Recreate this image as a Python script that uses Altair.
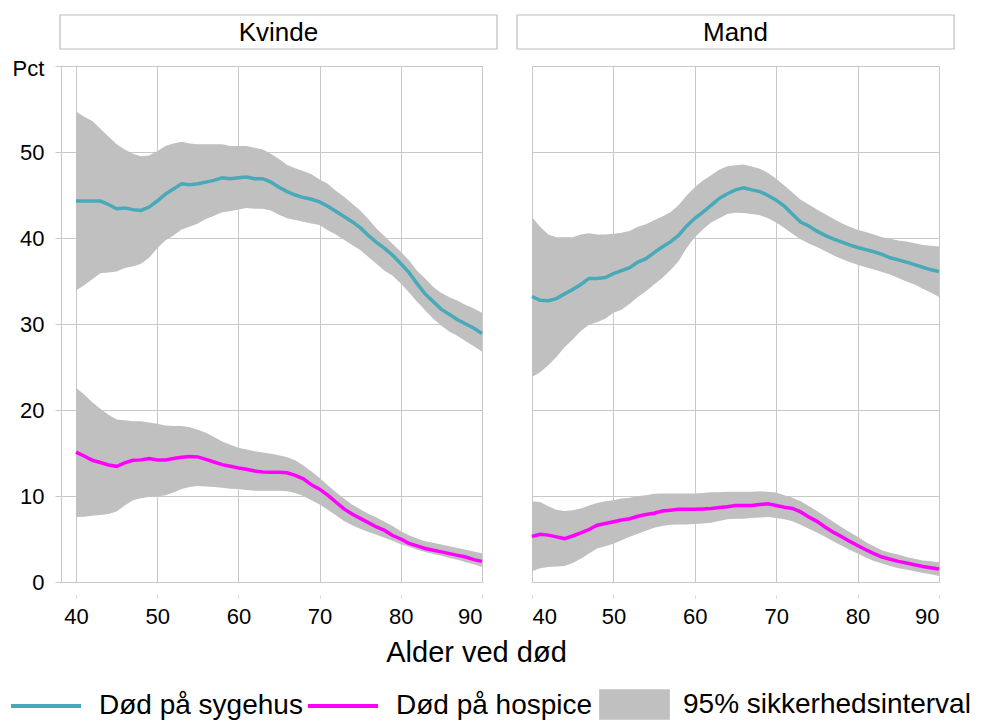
import altair as alt
import pandas as pd

ages = list(range(40, 91))

# Kvinde - Død på sygehus
kv_syg = [44.3, 44.3, 44.3, 44.3, 43.9, 43.4, 43.5, 43.3, 43.2, 43.6,
          44.3, 45.1, 45.7, 46.3, 46.2, 46.3, 46.5, 46.7, 47.0, 46.9,
          47.0, 47.1, 46.9, 46.9, 46.5, 45.9, 45.4, 45.0, 44.7, 44.5,
          44.2, 43.7, 43.1, 42.5, 41.9, 41.2, 40.3, 39.5, 38.8, 38.0,
          37.0, 36.0, 34.7, 33.5, 32.6, 31.7, 31.1, 30.5, 30.0, 29.5, 28.9]
kv_syg_hi = [54.7, 54.1, 53.6, 52.7, 51.8, 50.9, 50.3, 49.8, 49.5, 49.6,
             50.1, 50.7, 51.0, 51.2, 51.0, 50.9, 50.9, 50.9, 50.9, 50.7,
             50.7, 50.7, 50.5, 50.3, 49.8, 49.2, 48.5, 48.1, 47.8, 47.4,
             46.8, 46.3, 45.5, 44.8, 44.0, 43.2, 42.2, 41.1, 40.2, 39.3,
             38.4, 37.4, 36.2, 35.3, 34.3, 33.6, 33.1, 32.7, 32.2, 31.8, 31.3]
kv_syg_lo = [33.9, 34.5, 35.2, 35.9, 36.0, 36.1, 36.5, 36.7, 37.0, 37.7,
             38.8, 39.7, 40.3, 41.0, 41.3, 41.7, 42.2, 42.6, 43.0, 43.1,
             43.3, 43.5, 43.4, 43.4, 43.2, 42.7, 42.3, 42.1, 41.9, 41.7,
             41.5, 40.9, 40.4, 39.8, 39.2, 38.6, 37.8, 37.0, 36.2, 35.6,
             34.7, 33.7, 32.6, 31.6, 30.6, 29.8, 29.1, 28.6, 28.0, 27.4, 26.8]

# Kvinde - Død på hospice
kv_hos = [15.1, 14.65, 14.15, 13.9, 13.6, 13.45, 13.85, 14.15, 14.2, 14.35,
          14.2, 14.2, 14.35, 14.5, 14.6, 14.55, 14.25, 13.95, 13.65, 13.45,
          13.25, 13.1, 12.9, 12.8, 12.75, 12.75, 12.7, 12.4, 12.0, 11.3,
          10.8, 10.1, 9.3, 8.5, 7.9, 7.4, 6.9, 6.4, 6.0, 5.4,
          5.0, 4.5, 4.2, 3.9, 3.7, 3.5, 3.3, 3.1, 2.9, 2.6, 2.4]
kv_hos_hi = [22.6, 21.8, 20.9, 20.15, 19.45, 18.9, 18.8, 18.7, 18.7, 18.55,
             18.4, 18.2, 18.15, 18.15, 18.0, 17.7, 17.35, 16.85, 16.35, 15.95,
             15.6, 15.4, 15.2, 15.05, 14.9, 14.75, 14.5, 14.15, 13.55, 12.85,
             12.1, 11.25, 10.45, 9.7, 9.0, 8.45, 7.95, 7.5, 7.0, 6.5,
             5.9, 5.45, 5.05, 4.75, 4.55, 4.35, 4.15, 3.95, 3.75, 3.55, 3.35]
kv_hos_lo = [7.55, 7.6, 7.7, 7.8, 7.9, 8.2, 8.9, 9.5, 9.75, 9.9,
             9.95, 10.1, 10.4, 10.8, 11.05, 11.15, 11.1, 11.05, 10.95, 10.85,
             10.8, 10.7, 10.6, 10.6, 10.6, 10.6, 10.55, 10.35, 10.0, 9.5,
             9.0, 8.4, 7.75, 7.1, 6.6, 6.2, 5.8, 5.5, 5.15, 4.8,
             4.4, 4.1, 3.75, 3.5, 3.25, 3.05, 2.8, 2.6, 2.3, 2.05, 1.75]

# Mand - Død på sygehus
ma_syg = [33.2, 32.75, 32.7, 32.95, 33.5, 34.0, 34.6, 35.3, 35.3, 35.4,
          35.85, 36.2, 36.55, 37.2, 37.6, 38.3, 38.95, 39.55, 40.3, 41.4,
          42.3, 43.0, 43.8, 44.6, 45.15, 45.6, 45.85, 45.6, 45.4, 44.95,
          44.4, 43.7, 42.75, 41.85, 41.4, 40.8, 40.3, 39.9, 39.55, 39.2,
          38.9, 38.65, 38.4, 38.1, 37.7, 37.45, 37.2, 36.9, 36.6, 36.3, 36.1]
ma_syg_hi = [42.4, 41.3, 40.4, 40.1, 40.1, 40.1, 40.4, 40.55, 40.4, 40.4,
             40.5, 40.6, 40.8, 41.3, 41.6, 42.05, 42.5, 43.0, 43.8, 44.95,
             45.9, 46.7, 47.3, 47.95, 48.35, 48.45, 48.55, 48.3, 48.05, 47.55,
             46.9, 46.1, 45.3, 44.45, 43.9, 43.3, 42.8, 42.25, 41.75, 41.3,
             40.95, 40.7, 40.4, 40.1, 39.9, 39.7, 39.6, 39.4, 39.2, 39.1, 39.0]
ma_syg_lo = [23.85, 24.4, 25.2, 26.15, 27.3, 28.2, 29.2, 29.9, 30.2, 30.6,
             31.3, 31.65, 32.35, 33.15, 33.8, 34.6, 35.35, 36.25, 37.3, 38.85,
             40.1, 41.0, 41.8, 42.3, 42.8, 42.95, 42.9, 42.8, 42.65, 42.3,
             41.8, 41.15, 40.5, 39.85, 39.35, 38.95, 38.5, 38.0, 37.6, 37.2,
             36.9, 36.6, 36.35, 36.05, 35.75, 35.35, 34.95, 34.6, 34.1, 33.65, 33.15]

# Mand - Død på hospice
ma_hos = [5.3, 5.55, 5.45, 5.25, 5.05, 5.35, 5.7, 6.1, 6.6, 6.8,
          7.0, 7.2, 7.35, 7.65, 7.85, 8.0, 8.25, 8.35, 8.45, 8.45,
          8.45, 8.5, 8.55, 8.65, 8.75, 8.9, 8.9, 8.9, 9.0, 9.1,
          8.9, 8.7, 8.55, 8.15, 7.55, 7.05, 6.4, 5.8, 5.3, 4.75,
          4.25, 3.75, 3.3, 2.9, 2.65, 2.4, 2.2, 2.0, 1.8, 1.65, 1.5]
ma_hos_hi = [9.4, 9.3, 8.8, 8.4, 8.25, 8.35, 8.55, 8.9, 9.2, 9.4,
             9.5, 9.7, 9.8, 10.0, 10.1, 10.25, 10.3, 10.3, 10.3, 10.3,
             10.3, 10.35, 10.45, 10.45, 10.5, 10.5, 10.5, 10.5, 10.55, 10.5,
             10.4, 10.1, 9.8, 9.4, 8.85, 8.25, 7.65, 7.0, 6.4, 5.8,
             5.25, 4.65, 4.15, 3.7, 3.4, 3.2, 2.9, 2.7, 2.5, 2.4, 2.3]
ma_hos_lo = [1.25, 1.6, 1.75, 1.8, 1.85, 2.2, 2.7, 3.3, 3.9, 4.15,
             4.45, 4.85, 5.25, 5.6, 5.95, 6.3, 6.5, 6.65, 6.7, 6.7,
             6.75, 6.8, 6.9, 7.1, 7.3, 7.35, 7.35, 7.45, 7.5, 7.55,
             7.45, 7.3, 7.05, 6.65, 6.2, 5.75, 5.25, 4.75, 4.25, 3.75,
             3.3, 2.85, 2.45, 2.15, 1.85, 1.6, 1.45, 1.25, 1.05, 0.9, 0.7]

panels = ["Kvinde", "Mand"]
series = ["Død på sygehus", "Død på hospice"]
ci_label = "95% sikkerhedsinterval"
x_ticks = [40, 50, 60, 70, 80, 90]
y_ticks = [0, 10, 20, 30, 40, 50, 60]

TEAL = "#48AAB8"
MAGENTA = "#FF00FF"
BAND = "#C0C0C0"
GRID = "#C8C8C8"
FONT = "Liberation Sans"

rows = []
for kon, serie, mid, lo, hi in [
    ("Kvinde", series[0], kv_syg, kv_syg_lo, kv_syg_hi),
    ("Kvinde", series[1], kv_hos, kv_hos_lo, kv_hos_hi),
    ("Mand", series[0], ma_syg, ma_syg_lo, ma_syg_hi),
    ("Mand", series[1], ma_hos, ma_hos_lo, ma_hos_hi),
]:
    for a, m, l, h in zip(ages, mid, lo, hi):
        rows.append({"kon": kon, "serie": serie, "alder": a, "pct": m,
                     "lo": l, "hi": h, "ci": ci_label})
df = pd.DataFrame(rows)

stroke_legend = alt.Legend(
    title=None, orient="none", legendX=-52, legendY=603,
    direction="horizontal", symbolType="stroke", symbolSize=4900,
    symbolStrokeWidth=4, labelFontSize=28, labelOffset=16,
    columnPadding=-3, padding=0, labelLimit=400, labelColor="black",
    labelFont=FONT)
fill_legend = alt.Legend(
    title=None, orient="none", legendX=538, legendY=603,
    symbolType="M-1,-0.43L1,-0.43L1,0.43L-1,0.43Z", symbolSize=5000,
    symbolStrokeWidth=0, labelFontSize=28, labelOffset=13, padding=0,
    labelLimit=400, labelColor="black", labelFont=FONT)


def make_panel(name, left):
    if left:
        xdom = [38.15, 90]
        width = 421
        hx0, hx1 = -1, 436
        yaxis = alt.Axis(values=y_ticks,
                         labelExpr="datum.value == 60 ? '' : datum.label",
                         domain=True, domainColor=GRID, ticks=True,
                         tickColor=GRID, tickSize=6, labelPadding=11,
                         labelFontSize=22, labelColor="black", labelFont=FONT,
                         gridColor=GRID, title="Pct", titleAngle=0,
                         titleAlign="left", titleBaseline="alphabetic",
                         titleX=-49, titleY=9, titleFontSize=22,
                         titleFontWeight="normal", titleFont=FONT,
                         titleColor="black")
        xaxis = alt.Axis(values=x_ticks, grid=True, gridColor=GRID,
                         domain=False, ticks=True, tickSize=3,
                         tickColor="#D6D6D6", offset=13, labelFontSize=22,
                         labelPadding=8, labelColor="black", labelFont=FONT,
                         title="Alder ved død", titleFontSize=29,
                         titleFontWeight="normal", titleFont=FONT,
                         titleColor="black", titleX=415, titleAlign="center",
                         titlePadding=11)
    else:
        xdom = [40, 90]
        width = 407
        hx0, hx1 = -15, 422
        yaxis = alt.Axis(values=y_ticks, labels=False, ticks=False,
                         domain=False, gridColor=GRID, title=None)
        xaxis = alt.Axis(values=x_ticks, grid=True, gridColor=GRID,
                         domain=False, ticks=True, tickSize=3,
                         tickColor="#D6D6D6", offset=13, labelFontSize=22,
                         labelPadding=8, labelColor="black", labelFont=FONT,
                         title=None)

    xenc = alt.X("alder:Q", scale=alt.Scale(domain=xdom, nice=False, zero=False),
                 axis=xaxis)
    yscale = alt.Scale(domain=[0, 60], nice=False)

    base = alt.Chart(df).transform_filter(alt.datum.kon == name)

    band = base.mark_area(opacity=1).encode(
        x=xenc,
        y=alt.Y("lo:Q", scale=yscale, axis=yaxis),
        y2="hi:Q",
        detail="serie:N",
        fill=alt.Fill("ci:N", scale=alt.Scale(domain=[ci_label], range=[BAND]),
                      legend=fill_legend),
    )
    line = base.mark_line(strokeWidth=3.5).encode(
        x=alt.X("alder:Q"),
        y=alt.Y("pct:Q"),
        stroke=alt.Stroke("serie:N",
                          scale=alt.Scale(domain=series, range=[TEAL, MAGENTA]),
                          legend=stroke_legend),
    )

    hdr = alt.Data(values=[{"label": name}])
    box = alt.Chart(hdr).mark_rect(fill="white", stroke="#BDBDBD",
                                    strokeWidth=1.2).encode(
        x=alt.value(hx0), x2=alt.value(hx1),
        y=alt.value(-51), y2=alt.value(-17))
    txt = alt.Chart(hdr).mark_text(fontSize=26, font=FONT, color="black",
                                   baseline="middle", align="center").encode(
        x=alt.value((hx0 + hx1) / 2), y=alt.value(-33), text="label:N")

    return alt.layer(band, line, box, txt).properties(width=width, height=516)


chart = alt.hconcat(
    make_panel("Kvinde", True), make_panel("Mand", False),
    spacing=50, bounds="flush"
).resolve_scale(
    stroke="shared", fill="shared"
).resolve_legend(
    stroke="shared", fill="shared"
).properties(
    padding={"left": 1, "top": 5, "right": 2, "bottom": 2}
).configure_view(
    stroke=None
).configure(
    font=FONT
)

chart.save("out.html", embed_options={"renderer": "svg", "actions": False})
